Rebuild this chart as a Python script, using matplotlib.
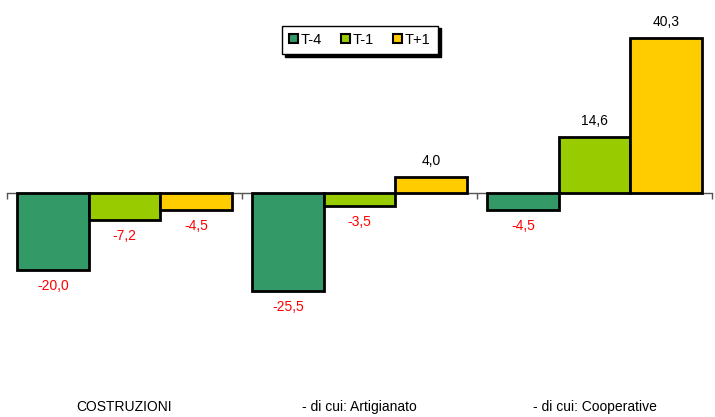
import matplotlib
matplotlib.use("Agg")
import matplotlib.pyplot as plt
from matplotlib.patches import Patch
from matplotlib.transforms import blended_transform_factory
import numpy as np

categories = ["COSTRUZIONI", "- di cui: Artigianato", "- di cui: Cooperative"]
series_names = ["T-4", "T-1", "T+1"]
t4 = [-20.0, -25.5, -4.5]
t1 = [-7.2, -3.5, 14.6]
tp1 = [-4.5, 4.0, 40.3]
colors = ["#339966", "#99CC00", "#FFCC00"]

plt.rcParams['font.family'] = ['Liberation Sans', 'DejaVu Sans']

fig = plt.figure(figsize=(7.15, 4.17), dpi=100)
ax = fig.add_axes([7/715, 1 - 366/417, 705/715, 346.5/417])
ax.set_xlim(-0.5, 2.5)
ax.set_ylim(-45, 45)

x = np.arange(len(categories))
w = 0.305
for i, (vals, col) in enumerate(zip([t4, t1, tp1], colors)):
    xs = x + (i - 1) * w
    ax.bar(xs, vals, width=w, color=col, edgecolor="black", linewidth=2.0, zorder=3)
    for xi, v in zip(xs, vals):
        off = 16 if v > 0 else -16
        ax.annotate(f"{v:.1f}".replace(".", ","), (xi, v), xytext=(0, off * 0.72),
                    textcoords="offset points", ha="center", va="center",
                    color="red" if v < 0 else "black", fontsize=10)

for s in ["left", "right", "top"]:
    ax.spines[s].set_visible(False)
ax.spines["bottom"].set_position(("data", 0))
ax.spines["bottom"].set_color("#555555")
ax.spines["bottom"].set_linewidth(1.0)
ax.spines["bottom"].set_zorder(1)
ax.set_yticks([])
ax.set_xticks([-0.5, 0.5, 1.5, 2.5])
ax.set_xticklabels([])
ax.tick_params(axis="x", direction="out", length=4, color="#555555", width=1.0)

trans = blended_transform_factory(ax.transData, fig.transFigure)
for xi, c in zip(x, categories):
    ax.text(xi, 1 - 407/417, c, transform=trans, ha="center", va="center", fontsize=10)

handles = [Patch(facecolor=c, edgecolor="black", linewidth=1.5) for c in colors]
fig.legend(handles, series_names, loc="center", bbox_to_anchor=(360/715, 1 - 40/417),
           ncol=3, fontsize=10.5, frameon=True, fancybox=False, edgecolor="black",
           framealpha=1, shadow={'color': 'black', 'alpha': 1},
           handlelength=0.6, handleheight=0.6, handletextpad=0.2, columnspacing=1.3,
           borderpad=0.5)

fig.savefig("out.png", dpi=100)
